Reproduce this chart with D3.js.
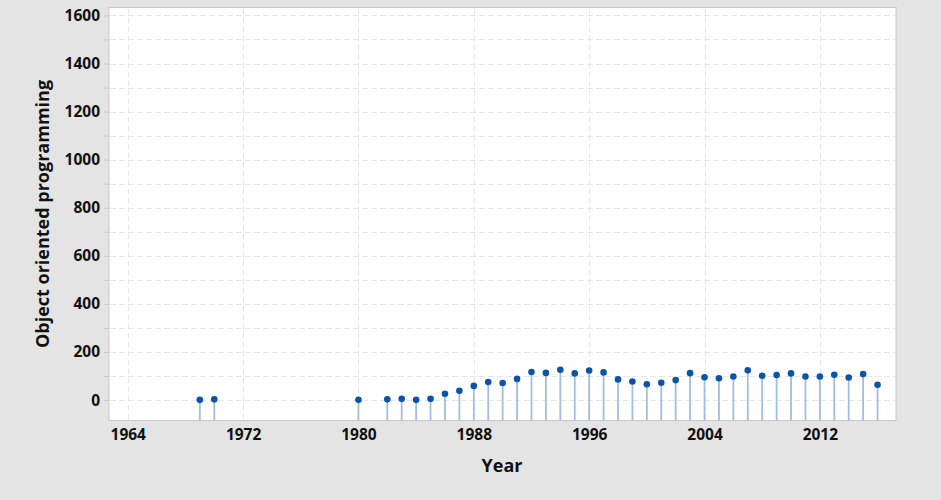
<!DOCTYPE html>
<html>
<head>
<meta charset="utf-8">
<script src="https://cdn.jsdelivr.net/npm/d3@7/dist/d3.min.js"></script>
<style>
  html, body { margin: 0; padding: 0; background: #e4e4e4; }
  svg { display: block; }
  text { font-family: "Open Sans", "Noto Sans", sans-serif; font-weight: bold; fill: #111; }
</style>
</head>
<body>
<svg id="chart" width="941" height="500"></svg>
<script>
const years = [1969, 1970, 1980, 1982, 1983, 1984, 1985, 1986, 1987, 1988, 1989, 1990,
  1991, 1992, 1993, 1994, 1995, 1996, 1997, 1998, 1999, 2000, 2001, 2002, 2003,
  2004, 2005, 2006, 2007, 2008, 2009, 2010, 2011, 2012, 2013, 2014, 2015, 2016];
const counts = [1, 3, 1, 3, 5, 1, 5, 26, 39, 59, 75, 71,
  88, 117, 113, 126, 111, 123, 115, 86, 77, 66, 72, 83, 112,
  95, 91, 98, 124, 101, 104, 111, 98, 98, 105, 94, 108, 64];
const xTicks = [1964, 1972, 1980, 1988, 1996, 2004, 2012];
const yTicks = [0, 200, 400, 600, 800, 1000, 1200, 1400, 1600];
const yMinorTicks = d3.range(0, 1601, 100);
const xTitle = "Year";
const yTitle = "Object oriented programming";

const svg = d3.select("#chart");
const L = 109, R = 896, T = 7.5, B = 420.5;

const x = d3.scaleLinear().domain([1962.7, 2017.28]).range([L, R]);
const y = d3.scaleLinear().domain([-85, 1633]).range([B, T]);

// plot background
svg.append("rect").attr("x", L).attr("y", T).attr("width", R - L).attr("height", B - T)
  .attr("fill", "#fff").attr("stroke", "#c8c8c8").attr("stroke-width", 1);

// gridlines
const g = svg.append("g");
g.selectAll("line.hg").data(yMinorTicks).join("line")
  .attr("x1", L + 1).attr("x2", R - 1)
  .attr("y1", d => Math.round(y(d)) + 0.5).attr("y2", d => Math.round(y(d)) + 0.5)
  .attr("stroke", "#e6e6e6").attr("stroke-dasharray", "6,3");
g.selectAll("line.vg").data(xTicks).join("line")
  .attr("y1", T + 1).attr("y2", B - 1)
  .attr("x1", d => Math.round(x(d)) + 0.5).attr("x2", d => Math.round(x(d)) + 0.5)
  .attr("stroke", "#e6e6e6").attr("stroke-dasharray", "6,3");

// stems
const data = years.map((yr, i) => ({ yr, v: counts[i] }));
svg.append("g").selectAll("line").data(data).join("line")
  .attr("x1", d => x(d.yr)).attr("x2", d => x(d.yr))
  .attr("y1", d => y(d.v)).attr("y2", B)
  .attr("stroke", "#a3bce2").attr("stroke-width", 1.8);
// points
svg.append("g").selectAll("circle").data(data).join("circle")
  .attr("cx", d => x(d.yr)).attr("cy", d => y(d.v)).attr("r", 3.3)
  .attr("fill", "#0b55a8");

// y axis
const yAxis = d3.axisLeft(y).tickValues(yMinorTicks).tickSize(5).tickPadding(4)
  .tickFormat(d => yTicks.includes(d) ? String(d) : "");
const ya = svg.append("g").attr("transform", `translate(${L},0)`).call(yAxis);
ya.select(".domain").remove();
ya.selectAll(".tick line").attr("stroke", "#c8c8c8");
ya.selectAll(".tick text").style("font-size", "15.5px").attr("fill", "#111");

// x axis
const xAxis = d3.axisBottom(x).tickValues(xTicks).tickSize(0).tickPadding(8)
  .tickFormat(d => String(d));
const xa = svg.append("g").attr("transform", `translate(0,${B})`).call(xAxis);
xa.select(".domain").remove();
xa.selectAll(".tick text").style("font-size", "15.5px").attr("fill", "#111");

// titles
svg.append("text").attr("x", 502).attr("y", 472).attr("text-anchor", "middle")
  .style("font-size", "18px").text(xTitle);
svg.append("text").attr("transform", "translate(49,214) rotate(-90)")
  .attr("text-anchor", "middle").style("font-size", "18px").text(yTitle);
</script>
</body>
</html>
